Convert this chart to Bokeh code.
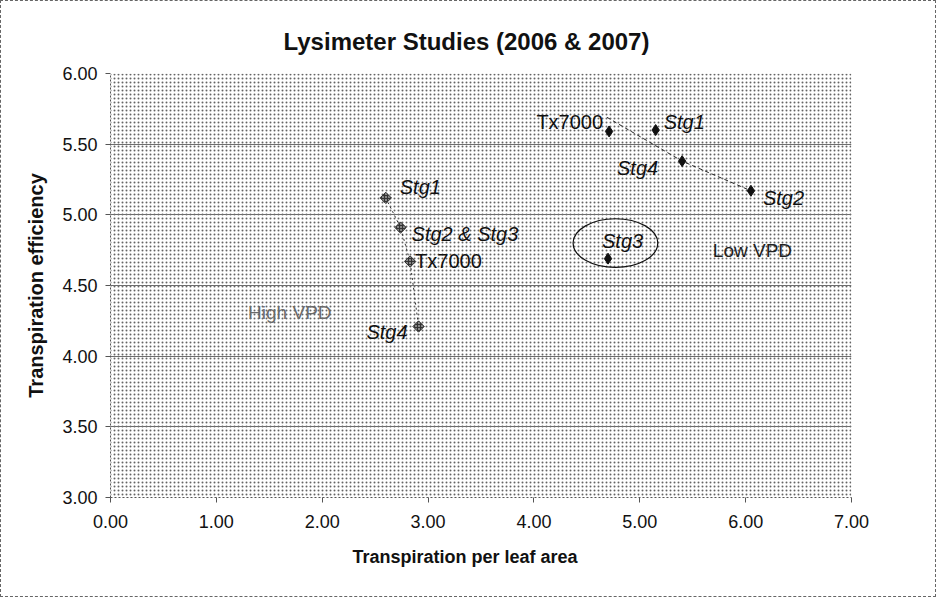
from bokeh.plotting import figure
from bokeh.models import (ColumnDataSource, FixedTicker, NumeralTickFormatter,
                          BoxAnnotation, InlineStyleSheet, Title)
from bokeh.core.properties import value
from bokeh.embed import file_html
from bokeh.resources import INLINE

# ---------------- data ----------------
title_text = "Lysimeter Studies (2006 & 2007)"
x_label = "Transpiration per leaf area"
y_label = "Transpiration efficiency"
x_ticks = [0, 1, 2, 3, 4, 5, 6, 7]
y_ticks = [3.0, 3.5, 4.0, 4.5, 5.0, 5.5, 6.0]

# High VPD group (connected by dotted line)
high_names = ["Stg1", "Stg2 & Stg3", "Tx7000", "Stg4"]
high_x = [2.60, 2.74, 2.83, 2.91]
high_y = [5.12, 4.91, 4.67, 4.21]

# Low VPD group (connected by dashed line)
low_names = ["Tx7000", "Stg1", "Stg4", "Stg2"]
low_x = [4.71, 5.15, 5.40, 6.05]
low_y = [5.59, 5.60, 5.38, 5.17]
low_guide_x = [4.69, 5.40, 6.05]
low_guide_y = [5.69, 5.38, 5.17]

# Stg3 at low VPD (circled)
stg3_x = [4.70]
stg3_y = [4.69]
ellipse_x = [4.77]
ellipse_y = [4.80]
ellipse_w = [0.80]
ellipse_h = [0.345]

region_names = ["High VPD", "Low VPD"]
region_x = [1.30, 5.69]
region_y = [4.31, 4.75]

# ---------------- styles / label placement ----------------
FONT = "Liberation Sans"
high_off_x = [14, 11, 5, -11]
high_off_y = [-11, 6, 0, 6]
high_align = ["left", "left", "left", "right"]
low_off_x = [-6, 8, -24, 12]
low_off_y = [-9, -8, 7, 7]
low_align = ["right", "left", "right", "left"]

def style_of(name):
    return "normal" if name.startswith("Tx") else "italic"

p = figure(width=920, height=581, x_range=(0, 7), y_range=(3, 6),
           output_backend="svg", toolbar_location=None,
           min_border_left=110, min_border_right=69,
           min_border_top=73, min_border_bottom=84)
p.stylesheets = [InlineStyleSheet(css=(
    ":host { position: relative; overflow: visible; }"
    ":host::after { content: ''; position: absolute; left: 0; top: 0;"
    " width: 936px; height: 597px; box-sizing: border-box;"
    " border: 1px dashed #666; pointer-events: none; }"))]

p.title.text = title_text
p.title.align = "left"
p.title.offset = 173
p.title.text_font = FONT
p.title.text_font_size = "24px"
p.title.text_font_style = "bold"
p.title.text_color = "#111111"
p.title.standoff = 38

p.background_fill_color = "white"
p.border_fill_color = "white"
p.outline_line_color = None

bg = BoxAnnotation(fill_color="#ffffff", fill_alpha=1.0, line_color=None,
                   hatch_pattern="dot", hatch_color="#222222", hatch_scale=4,
                   hatch_weight=0.8, hatch_alpha=0.7, level="image")
p.add_layout(bg)

p.xgrid.grid_line_color = None
p.ygrid.grid_line_color = "#6e6e6e"
p.ygrid.grid_line_width = 1

for ax in (p.xaxis[0], p.yaxis[0]):
    ax.major_label_text_font = FONT
    ax.major_label_text_font_size = "18px"
    ax.major_label_text_color = "#111111"
    ax.axis_label_text_font = FONT
    ax.axis_label_text_font_size = "20px"
    ax.axis_label_text_font_style = "bold"
    ax.axis_label_text_color = "#111111"
    ax.axis_line_color = "#555555"
    ax.axis_line_dash = "2 2"
    ax.major_tick_line_color = "#555555"
    ax.major_tick_out = 5
    ax.major_tick_in = 0
    ax.minor_tick_line_color = None
    ax.formatter = NumeralTickFormatter(format="0.00")

p.xaxis.ticker = FixedTicker(ticks=x_ticks)
p.yaxis.ticker = FixedTicker(ticks=y_ticks)
p.yaxis.axis_label = y_label
p.xaxis.major_label_standoff = 12
p.yaxis.major_label_standoff = 8
p.yaxis.axis_label_standoff = 12

p.add_layout(Title(text=x_label, align="left", offset=242, standoff=29,
                   text_font=FONT, text_font_size="18px", text_font_style="bold",
                   text_color="#111111"), "below")

# lines
p.line(high_x, high_y, line_color="#333333", line_dash="2 3", line_width=1)
p.line(low_guide_x, low_guide_y, line_color="#222222", line_dash="4 3", line_width=1)

# ellipse
p.ellipse(x=ellipse_x, y=ellipse_y, width=ellipse_w, height=ellipse_h,
          fill_color=None, line_color="#111111", line_width=1.2)

# markers
p.scatter(high_x, high_y, marker="square", size=8, angle=0.785,
          fill_color="#333333", line_color="#333333", hatch_pattern="dot",
          hatch_color="white", hatch_scale=3)
p.scatter(low_x, low_y, marker="diamond", size=11, fill_color="#111111",
          line_color="#111111")
p.scatter(stg3_x, stg3_y, marker="diamond", size=11, fill_color="#111111",
          line_color="#111111")

# point labels
hs = ColumnDataSource(dict(x=high_x, y=high_y, t=high_names, ox=high_off_x,
                           oy=high_off_y, al=high_align,
                           st=[style_of(n) for n in high_names]))
ls = ColumnDataSource(dict(x=low_x, y=low_y, t=low_names, ox=low_off_x,
                           oy=low_off_y, al=low_align,
                           st=[style_of(n) for n in low_names]))
for src in (hs, ls):
    p.text(x="x", y="y", text="t", x_offset="ox", y_offset="oy",
           text_align="al", text_baseline="middle", text_font=value(FONT),
           text_font_size="20px", text_font_style="st", text_color="#111111",
           source=src)

p.text(x=stg3_x, y=stg3_y, text=["Stg3"], x_offset=-6, y_offset=-18,
       text_align="left", text_baseline="middle", text_font=value(FONT),
       text_font_size="20px", text_font_style="italic", text_color="#111111")

p.text(x=region_x[:1], y=region_y[:1], text=region_names[:1], text_align="left",
       text_baseline="middle", text_font=value(FONT), text_font_size="19px",
       text_color="#6a6a6a")
p.text(x=region_x[1:], y=region_y[1:], text=region_names[1:], text_align="left",
       text_baseline="middle", text_font=value(FONT), text_font_size="19px",
       text_color="#222222")

open("out.html", "w").write(file_html(p, INLINE))
